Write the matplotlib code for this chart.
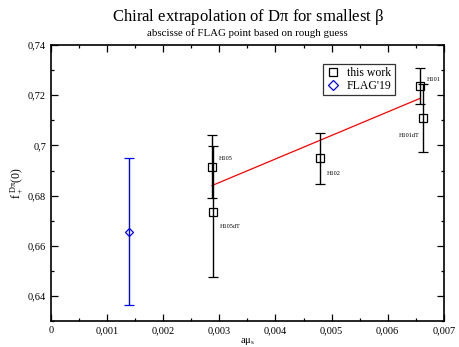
import numpy as np
import matplotlib.pyplot as plt
from matplotlib.lines import Line2D
from matplotlib.ticker import MultipleLocator, FuncFormatter

plt.rcParams['font.family'] = ['Liberation Serif', 'DejaVu Serif']
plt.rcParams['mathtext.fontset'] = 'custom'
plt.rcParams['mathtext.rm'] = 'Liberation Serif'
plt.rcParams['mathtext.it'] = 'Liberation Serif'

# this work
names = ['H105', 'H105dT', 'H102', 'H101', 'H101dT']
amu = [0.00287, 0.00288, 0.00479, 0.00658, 0.00662]
fplus = [0.6915, 0.6736, 0.6948, 0.7236, 0.7108]
ferr = [0.0125, 0.0260, 0.0100, 0.0072, 0.0136]

# FLAG'19
flag_amu = [0.00139]
flag_f = [0.6656]
flag_err = [0.0292]

# linear fit
fit_x = [0.00287, 0.00658]
fit_y = [0.6840, 0.7188]

fig = plt.figure(figsize=(4.59, 3.47), dpi=100)
ax = fig.add_axes([0.111, 0.075, 0.856, 0.795])

ax.plot(fit_x, fit_y, color='red', lw=0.9, zorder=2)
ax.errorbar(amu, fplus, yerr=ferr, fmt='s', ms=6, mfc='none', mec='black',
            mew=0.9, ecolor='black', elinewidth=1.0, capsize=3.5, capthick=1.0, zorder=3)
ax.errorbar(flag_amu, flag_f, yerr=flag_err, fmt='D', ms=4.5, mfc='none', mec='blue',
            mew=0.9, ecolor='blue', elinewidth=1.0, capsize=3.5, capthick=1.0, zorder=3)

# point labels
offs = {'H105': (5, 6, 'left'), 'H105dT': (5, -11, 'left'), 'H102': (5, -11, 'left'),
        'H101': (5, 5, 'left'), 'H101dT': (-2, -12, 'right')}
for n, x, y in zip(names, amu, fplus):
    dx, dy, ha = offs[n]
    ax.annotate(n, (x, y), xytext=(dx, dy), textcoords='offset points',
                fontsize=4.5, ha=ha, va='center')

ax.set_xlim(0, 0.007)
ax.set_ylim(0.63, 0.74)
ax.xaxis.set_major_locator(MultipleLocator(0.001))
ax.xaxis.set_minor_locator(MultipleLocator(0.0005))
ax.yaxis.set_minor_locator(MultipleLocator(0.01))
ax.set_yticks([0.64, 0.66, 0.68, 0.70, 0.72, 0.74])

def comma(v, pos):
    s = ('%.3f' % v).rstrip('0').rstrip('.')
    return s.replace('.', ',')

ax.xaxis.set_major_formatter(FuncFormatter(comma))
ax.yaxis.set_major_formatter(FuncFormatter(comma))
ax.tick_params(which='both', direction='in', top=True, right=True, labelsize=7.5, width=0.9)
ax.tick_params(which='major', length=5)
ax.tick_params(which='minor', length=2.5)
for s in ax.spines.values():
    s.set_linewidth(1.2)

ax.set_xlabel(r'a$\mathrm{\mu}_\mathrm{s}$', fontsize=7.5, labelpad=1)
ax.set_ylabel(r'f$_+^{\ \mathrm{D\pi}}$(0)', fontsize=8.5, labelpad=1)

handles = [Line2D([], [], ls='none', marker='s', ms=6, mfc='none', mec='black', mew=0.9),
           Line2D([], [], ls='none', marker='D', ms=5, mfc='none', mec='blue', mew=0.9)]
leg = ax.legend(handles, ['this work', "FLAG'19"], loc='upper left',
                bbox_to_anchor=(0.692, 0.931), fontsize=8.5,
                frameon=True, fancybox=False, edgecolor='black', handlelength=1.2,
                handletextpad=0.6, borderpad=0.25, labelspacing=0.05, borderaxespad=0)
leg.get_frame().set_linewidth(0.9)

fig.text(0.54, 0.94, r'Chiral extrapolation of D$\mathrm{\pi}$ for smallest $\mathrm{\beta}$',
         ha='center', fontsize=12)
fig.text(0.54, 0.895, 'abscisse of FLAG point based on rough guess', ha='center', fontsize=7.8)

fig.savefig('out.png', dpi=100)
